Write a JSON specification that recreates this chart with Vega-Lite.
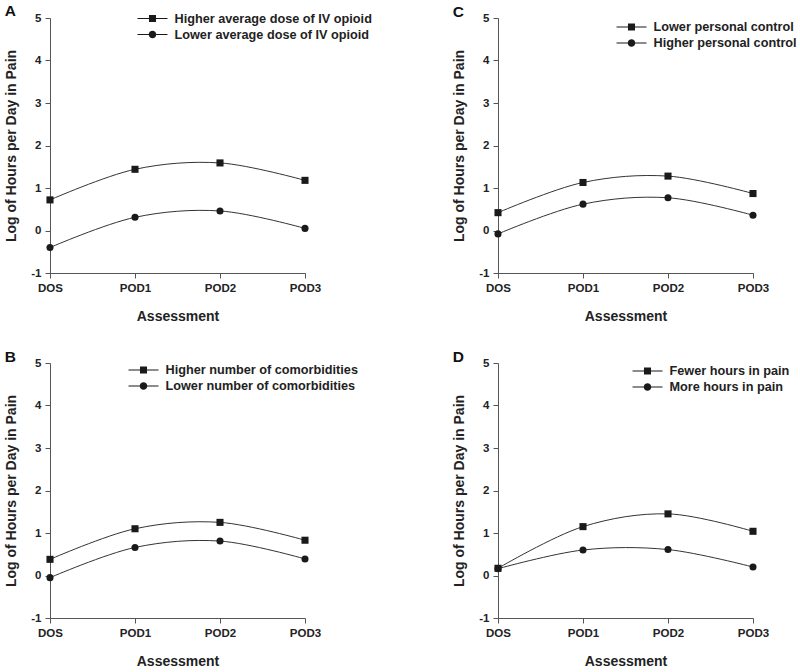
{
  "$schema": "https://vega.github.io/schema/vega-lite/v6.json",
  "background": "white",
  "padding": {"left": 4, "top": 3, "right": 0, "bottom": 0},
  "config": {
    "view": {"stroke": null},
    "font": "Liberation Sans",
    "axis": {
      "labelFont": "Liberation Sans", "labelFontWeight": "bold", "labelFontSize": 11.5, "labelColor": "#222",
      "titleFont": "Liberation Sans", "titleFontWeight": "bold", "titleFontSize": 14, "titleColor": "#222",
      "domainColor": "#555", "tickColor": "#555", "tickSize": 5, "grid": false, "labelPadding": 4
    },
    "axisY": {"titlePadding": 12, "labelExpr": "datum.value < 0 ? '-' + abs(datum.value) : '' + datum.value"},
    "legend": {
      "labelFont": "Liberation Sans", "labelFontWeight": "bold", "labelFontSize": 12.7, "labelColor": "#222", "labelLimit": 0,
      "padding": 0, "rowPadding": 1, "labelOffset": 14.5, "symbolSize": 225, "symbolStrokeWidth": 0,
      "symbolFillColor": "#1a1a1a", "titlePadding": 0
    },
    "title": {"font": "Liberation Sans", "fontWeight": "bold", "fontSize": 15.5, "color": "#111", "anchor": "start", "frame": "bounds"}
  },
  "datasets": {
    "pts": [
      {"panel": "A", "series": "Higher average dose of IV opioid", "time": "DOS", "value": 0.72},
      {"panel": "A", "series": "Higher average dose of IV opioid", "time": "POD1", "value": 1.44},
      {"panel": "A", "series": "Higher average dose of IV opioid", "time": "POD2", "value": 1.59},
      {"panel": "A", "series": "Higher average dose of IV opioid", "time": "POD3", "value": 1.18},
      {"panel": "A", "series": "Lower average dose of IV opioid", "time": "DOS", "value": -0.4},
      {"panel": "A", "series": "Lower average dose of IV opioid", "time": "POD1", "value": 0.31},
      {"panel": "A", "series": "Lower average dose of IV opioid", "time": "POD2", "value": 0.46},
      {"panel": "A", "series": "Lower average dose of IV opioid", "time": "POD3", "value": 0.05},
      {"panel": "C", "series": "Lower personal control", "time": "DOS", "value": 0.42},
      {"panel": "C", "series": "Lower personal control", "time": "POD1", "value": 1.13},
      {"panel": "C", "series": "Lower personal control", "time": "POD2", "value": 1.28},
      {"panel": "C", "series": "Lower personal control", "time": "POD3", "value": 0.87},
      {"panel": "C", "series": "Higher personal control", "time": "DOS", "value": -0.08},
      {"panel": "C", "series": "Higher personal control", "time": "POD1", "value": 0.62},
      {"panel": "C", "series": "Higher personal control", "time": "POD2", "value": 0.77},
      {"panel": "C", "series": "Higher personal control", "time": "POD3", "value": 0.36},
      {"panel": "B", "series": "Higher number of comorbidities", "time": "DOS", "value": 0.38},
      {"panel": "B", "series": "Higher number of comorbidities", "time": "POD1", "value": 1.1},
      {"panel": "B", "series": "Higher number of comorbidities", "time": "POD2", "value": 1.25},
      {"panel": "B", "series": "Higher number of comorbidities", "time": "POD3", "value": 0.83},
      {"panel": "B", "series": "Lower number of comorbidities", "time": "DOS", "value": -0.05},
      {"panel": "B", "series": "Lower number of comorbidities", "time": "POD1", "value": 0.66},
      {"panel": "B", "series": "Lower number of comorbidities", "time": "POD2", "value": 0.81},
      {"panel": "B", "series": "Lower number of comorbidities", "time": "POD3", "value": 0.39},
      {"panel": "D", "series": "Fewer hours in pain", "time": "DOS", "value": 0.17},
      {"panel": "D", "series": "Fewer hours in pain", "time": "POD1", "value": 1.15},
      {"panel": "D", "series": "Fewer hours in pain", "time": "POD2", "value": 1.45},
      {"panel": "D", "series": "Fewer hours in pain", "time": "POD3", "value": 1.04},
      {"panel": "D", "series": "More hours in pain", "time": "DOS", "value": 0.16},
      {"panel": "D", "series": "More hours in pain", "time": "POD1", "value": 0.6},
      {"panel": "D", "series": "More hours in pain", "time": "POD2", "value": 0.61},
      {"panel": "D", "series": "More hours in pain", "time": "POD3", "value": 0.2}
    ]
  },
  "columns": 2,
  "spacing": {"column": 80, "row": 25},
  "concat": [
    {
      "width": 255, "height": 255,
      "title": {"text": "A", "offset": -8},
      "data": {"name": "pts"},
      "transform": [{"filter": "datum.panel === 'A'"}],
      "encoding": {
        "x": {"field": "time", "type": "ordinal", "scale": {"type": "point", "padding": 0, "domain": ["DOS", "POD1", "POD2", "POD3"]}, "axis": {"title": "Assessment", "labelAngle": 0, "titlePadding": 16}},
        "y": {"field": "value", "type": "quantitative", "scale": {"domain": [-1, 5], "nice": false, "zero": false}, "axis": {"title": "Log of Hours per Day in Pain", "values": [-1, 0, 1, 2, 3, 4, 5]}}
      },
      "layer": [
        {"mark": {"type": "line", "interpolate": "catmull-rom", "color": "#333", "strokeWidth": 1}, "encoding": {"detail": {"field": "series"}}},
        {"mark": {"type": "point", "filled": true, "color": "#1a1a1a", "opacity": 1, "size": 50}, "encoding": {"shape": {"field": "series", "scale": {"domain": ["Higher average dose of IV opioid", "Lower average dose of IV opioid"], "range": ["square", "circle"]}, "legend": null}}},
        {"transform": [{"filter": "false"}], "mark": {"type": "point", "filled": true, "color": "#1a1a1a", "opacity": 1, "size": 225},
          "encoding": {"shape": {"field": "series", "title": null,
            "scale": {"domain": ["Higher average dose of IV opioid", "Lower average dose of IV opioid"], "range": ["M-2,-0.07H-0.47V-0.47H0.47V-0.07H2V0.07H0.47V0.47H-0.47V0.07H-2Z", "M-2,-0.07H2V0.07H-2ZM-0.5,0A0.5,0.5,0,1,1,0.5,0A0.5,0.5,0,1,1,-0.5,0Z"]},
            "legend": {"orient": "none", "legendX": 95, "legendY": -7}}}}
      ],
      "resolve": {"scale": {"shape": "independent"}}
    },
    {
      "width": 255, "height": 255,
      "title": {"text": "C", "offset": -8},
      "data": {"name": "pts"},
      "transform": [{"filter": "datum.panel === 'C'"}],
      "encoding": {
        "x": {"field": "time", "type": "ordinal", "scale": {"type": "point", "padding": 0, "domain": ["DOS", "POD1", "POD2", "POD3"]}, "axis": {"title": "Assessment", "labelAngle": 0, "titlePadding": 16}},
        "y": {"field": "value", "type": "quantitative", "scale": {"domain": [-1, 5], "nice": false, "zero": false}, "axis": {"title": "Log of Hours per Day in Pain", "values": [-1, 0, 1, 2, 3, 4, 5]}}
      },
      "layer": [
        {"mark": {"type": "line", "interpolate": "catmull-rom", "color": "#333", "strokeWidth": 1}, "encoding": {"detail": {"field": "series"}}},
        {"mark": {"type": "point", "filled": true, "color": "#1a1a1a", "opacity": 1, "size": 50}, "encoding": {"shape": {"field": "series", "scale": {"domain": ["Lower personal control", "Higher personal control"], "range": ["square", "circle"]}, "legend": null}}},
        {"transform": [{"filter": "false"}], "mark": {"type": "point", "filled": true, "color": "#1a1a1a", "opacity": 1, "size": 225},
          "encoding": {"shape": {"field": "series", "title": null,
            "scale": {"domain": ["Lower personal control", "Higher personal control"], "range": ["M-2,-0.07H-0.47V-0.47H0.47V-0.07H2V0.07H0.47V0.47H-0.47V0.07H-2Z", "M-2,-0.07H2V0.07H-2ZM-0.5,0A0.5,0.5,0,1,1,0.5,0A0.5,0.5,0,1,1,-0.5,0Z"]},
            "legend": {"orient": "none", "legendX": 126, "legendY": 1.5}}}}
      ],
      "resolve": {"scale": {"shape": "independent"}}
    },
    {
      "width": 255, "height": 255,
      "title": {"text": "B", "offset": -8},
      "data": {"name": "pts"},
      "transform": [{"filter": "datum.panel === 'B'"}],
      "encoding": {
        "x": {"field": "time", "type": "ordinal", "scale": {"type": "point", "padding": 0, "domain": ["DOS", "POD1", "POD2", "POD3"]}, "axis": {"title": "Assessment", "labelAngle": 0, "titlePadding": 16}},
        "y": {"field": "value", "type": "quantitative", "scale": {"domain": [-1, 5], "nice": false, "zero": false}, "axis": {"title": "Log of Hours per Day in Pain", "values": [-1, 0, 1, 2, 3, 4, 5]}}
      },
      "layer": [
        {"mark": {"type": "line", "interpolate": "catmull-rom", "color": "#333", "strokeWidth": 1}, "encoding": {"detail": {"field": "series"}}},
        {"mark": {"type": "point", "filled": true, "color": "#1a1a1a", "opacity": 1, "size": 50}, "encoding": {"shape": {"field": "series", "scale": {"domain": ["Higher number of comorbidities", "Lower number of comorbidities"], "range": ["square", "circle"]}, "legend": null}}},
        {"transform": [{"filter": "false"}], "mark": {"type": "point", "filled": true, "color": "#1a1a1a", "opacity": 1, "size": 225},
          "encoding": {"shape": {"field": "series", "title": null,
            "scale": {"domain": ["Higher number of comorbidities", "Lower number of comorbidities"], "range": ["M-2,-0.07H-0.47V-0.47H0.47V-0.07H2V0.07H0.47V0.47H-0.47V0.07H-2Z", "M-2,-0.07H2V0.07H-2ZM-0.5,0A0.5,0.5,0,1,1,0.5,0A0.5,0.5,0,1,1,-0.5,0Z"]},
            "legend": {"orient": "none", "legendX": 86, "legendY": -0.5}}}}
      ],
      "resolve": {"scale": {"shape": "independent"}}
    },
    {
      "width": 255, "height": 255,
      "title": {"text": "D", "offset": -8},
      "data": {"name": "pts"},
      "transform": [{"filter": "datum.panel === 'D'"}],
      "encoding": {
        "x": {"field": "time", "type": "ordinal", "scale": {"type": "point", "padding": 0, "domain": ["DOS", "POD1", "POD2", "POD3"]}, "axis": {"title": "Assessment", "labelAngle": 0, "titlePadding": 16}},
        "y": {"field": "value", "type": "quantitative", "scale": {"domain": [-1, 5], "nice": false, "zero": false}, "axis": {"title": "Log of Hours per Day in Pain", "values": [-1, 0, 1, 2, 3, 4, 5]}}
      },
      "layer": [
        {"mark": {"type": "line", "interpolate": "catmull-rom", "color": "#333", "strokeWidth": 1}, "encoding": {"detail": {"field": "series"}}},
        {"mark": {"type": "point", "filled": true, "color": "#1a1a1a", "opacity": 1, "size": 50}, "encoding": {"shape": {"field": "series", "scale": {"domain": ["Fewer hours in pain", "More hours in pain"], "range": ["square", "circle"]}, "legend": null}}},
        {"transform": [{"filter": "false"}], "mark": {"type": "point", "filled": true, "color": "#1a1a1a", "opacity": 1, "size": 225},
          "encoding": {"shape": {"field": "series", "title": null,
            "scale": {"domain": ["Fewer hours in pain", "More hours in pain"], "range": ["M-2,-0.07H-0.47V-0.47H0.47V-0.07H2V0.07H0.47V0.47H-0.47V0.07H-2Z", "M-2,-0.07H2V0.07H-2ZM-0.5,0A0.5,0.5,0,1,1,0.5,0A0.5,0.5,0,1,1,-0.5,0Z"]},
            "legend": {"orient": "none", "legendX": 142, "legendY": 0.5}}}}
      ],
      "resolve": {"scale": {"shape": "independent"}}
    }
  ]
}
